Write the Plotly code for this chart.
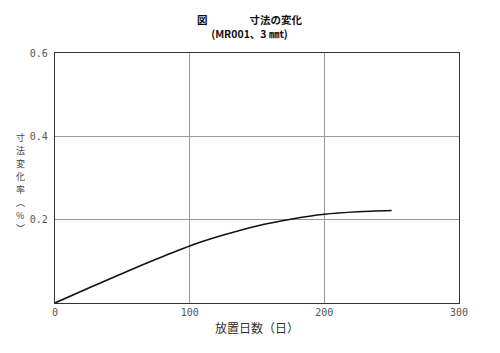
import plotly.graph_objects as go

days = [0, 25, 50, 75, 100, 125, 150, 175, 200, 225, 250]
change_pct = [0.0, 0.036, 0.071, 0.105, 0.137, 0.163, 0.185, 0.201, 0.213, 0.219, 0.222]

x_ticks = [0, 100, 200, 300]
y_ticks = [0.2, 0.4, 0.6]
y_tick_labels = ["0.2", "0.4", "0.6"]

title_line1 = "図　　　　寸法の変化"
title_line2 = "(MR001、3 ㎜t)"
x_title = "放置日数（日）"
y_title_chars = ["寸", "法", "変", "化", "率", "︵", "%", "︶"]
y_title_px = [137, 150, 163, 176, 189, 202, 215, 228]

FONT = "Noto Sans CJK JP"
PLOT_TOP, PLOT_BOTTOM = 53, 303

fig = go.Figure()
fig.add_trace(go.Scatter(
    x=days, y=change_pct, mode="lines",
    line=dict(color="#111111", width=1.6, shape="spline", smoothing=0.8),
    hoverinfo="skip", showlegend=False,
))

fig.update_layout(
    width=500, height=353,
    margin=dict(l=55, r=41, t=PLOT_TOP, b=353 - PLOT_BOTTOM),
    paper_bgcolor="white", plot_bgcolor="white",
    font=dict(family=FONT, color="#333333"),
    showlegend=False,
    xaxis=dict(
        range=[0, 300], tickvals=x_ticks, ticktext=[str(v) for v in x_ticks],
        showgrid=True, gridcolor="#999999", gridwidth=0.8,
        showline=True, linecolor="#333333", linewidth=1.2, mirror=True,
        ticks="", zeroline=False,
        tickfont=dict(family="DejaVu Sans Mono, monospace", size=10, color="#555555"),
    ),
    yaxis=dict(
        range=[0, 0.6], tickvals=y_ticks, ticktext=y_tick_labels,
        showgrid=True, gridcolor="#999999", gridwidth=0.8,
        showline=True, linecolor="#333333", linewidth=1.2, mirror=True,
        ticks="", zeroline=False, ticklabelstandoff=4,
        tickfont=dict(family="DejaVu Sans Mono, monospace", size=10, color="#555555"),
    ),
)

fig.add_annotation(text="<b>" + title_line1 + "</b><br><b>" + title_line2 + "</b>",
                   xref="paper", yref="paper",
                   x=0.5, xshift=-7, y=1, yshift=27, xanchor="center", yanchor="middle",
                   showarrow=False, font=dict(family=FONT, size=10.5, color="#111111"))
fig.add_annotation(text=x_title, xref="paper", yref="paper",
                   x=0.5, y=0, yshift=-24, xanchor="center", yanchor="middle",
                   showarrow=False, font=dict(family=FONT, size=12, color="#333333"))

# vertical y-axis title, one character at a time
h = PLOT_BOTTOM - PLOT_TOP
for ch, py in zip(y_title_chars, y_title_px):
    fig.add_annotation(text=ch, xref="paper", yref="paper",
                       x=0, xshift=-35, y=(PLOT_BOTTOM - py) / h,
                       xanchor="center", yanchor="middle", showarrow=False,
                       font=dict(family=FONT, size=9, color="#444444"))

fig.write_html("out.html")
